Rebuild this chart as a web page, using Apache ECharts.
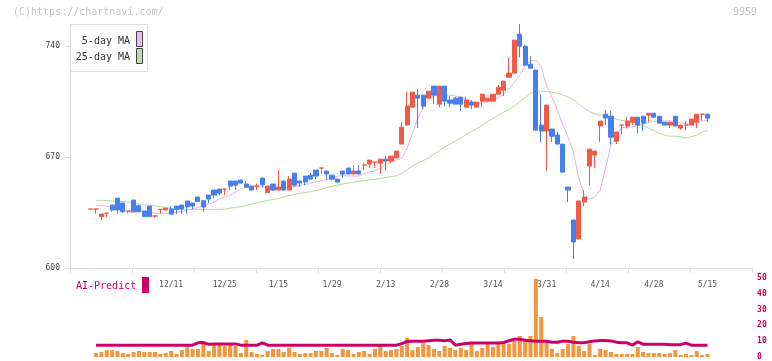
<!DOCTYPE html>
<html><head><meta charset="utf-8">
<script src="https://cdn.jsdelivr.net/npm/echarts/dist/echarts.min.js"></script>
<style>html,body{margin:0;padding:0;background:#fff}#c{width:772px;height:361px}</style>
</head><body><div id="c"></div>
<script>
// ---- data ----
const tickLabels = ['12/11','12/25','1/15','1/29','2/13','2/28','3/14','3/31','4/14','4/28','5/15'];
const priceTicks = [600, 670, 740];
const volTicks = [0, 10, 20, 30, 40, 50];

const openP = [
637.2,
637.2,632.4,634.6,639.7,644.1,641.0,636.0,642.9,639.3,636.0,
639.1,632.8,637.0,636.6,637.2,639.1,639.7,642.3,641.0,644.8,
642.5,646.0,649.2,649.8,649.8,654.9,654.9,655.5,653.0,651.7,
651.7,656.8,647.5,653.0,649.2,654.9,649.2,659.9,654.9,658.0,
658.6,661.8,663.1,661.2,658.6,656.1,661.2,663.1,659.3,661.2,
665.0,665.6,666.8,666.2,668.7,667.5,669.5,678.2,690.2,701.5,
709.1,709.1,707.2,714.8,703.4,714.8,706.0,707.2,707.8,701.5,
704.7,701.5,705.3,705.3,705.3,709.7,712.2,720.4,723.0,747.6,
740.0,728.6,724.9,690.2,686.4,687.7,683.9,678.2,651.1,630.3,
618.3,641.6,664.3,671.3,689.6,697.1,695.8,680.0,690.2,689.6,
692.0,695.2,695.8,696.5,697.7,695.8,692.0,690.2,695.8,688.3,
690.2,690.2,692.0,697.1,697.1];
const closeP = [
637.2,
637.2,634.1,634.6,636.6,636.6,635.5,636.0,635.5,635.5,632.4,
632.4,632.8,637.0,637.8,634.0,637.0,637.2,638.7,639.1,642.0,
638.5,643.5,646.0,647.3,649.8,651.7,652.3,653.6,651.0,649.2,
651.7,652.5,651.7,649.2,651.1,649.2,656.1,652.3,653.6,654.2,
656.1,658.0,663.1,659.3,656.1,654.2,659.3,659.3,661.2,659.3,
665.0,668.1,666.8,668.7,667.5,670.6,673.8,688.9,702.2,711.0,
707.2,702.2,711.6,709.1,714.8,705.3,704.0,703.4,703.4,706.0,
702.8,704.7,709.7,707.2,709.7,714.1,717.9,723.0,743.8,740.0,
728.0,726.1,687.0,686.4,702.8,683.2,678.2,660.5,649.2,616.4,
642.3,644.8,675.0,673.8,692.7,694.6,682.6,685.8,690.2,692.7,
695.2,690.2,691.4,697.7,695.2,691.4,690.2,692.0,689.6,690.2,
690.2,694.0,697.1,697.1,694.6];
const lowP = [
637.2,
634.4,630.3,632.0,635.5,634.2,634.8,634.5,635.5,635.5,632.4,
632.4,631.7,634.2,636.6,634.0,634.2,634.2,634.2,637.0,642.0,
635.5,641.0,644.0,646.0,646.0,649.2,649.2,653.6,651.0,649.2,
649.2,650.9,647.5,648.6,649.2,648.6,649.2,651.1,651.1,652.3,
656.1,656.1,659.3,655.5,655.5,654.2,656.7,659.3,659.3,659.3,
661.8,663.1,663.1,659.3,661.2,666.2,669.5,678.2,690.2,701.5,
688.3,700.3,707.2,703.4,701.5,702.2,701.5,703.4,699.0,701.5,
700.3,701.5,701.5,705.3,705.3,709.7,708.5,720.4,723.0,733.0,
728.0,726.1,687.0,679.5,661.2,679.5,678.2,660.5,641.6,605.7,
618.3,639.1,652.3,663.0,679.5,690.2,678.0,678.2,684.5,688.0,
690.2,685.1,686.4,692.0,694.6,691.4,690.2,688.3,689.6,687.0,
687.0,690.2,688.3,693.0,692.0];
const highP = [
637.2,
637.2,634.1,634.6,639.7,644.1,641.0,636.0,642.9,640.0,636.0,
639.1,632.8,637.0,637.8,639.1,639.1,639.7,642.3,641.0,644.8,
642.5,646.0,649.2,649.8,649.8,654.9,654.9,655.5,655.0,651.7,
653.4,656.8,651.7,653.0,661.8,654.9,658.0,659.9,654.9,658.0,
659.9,661.8,663.1,661.2,658.6,656.1,661.2,663.1,665.0,665.0,
666.2,668.1,666.8,668.7,670.6,670.6,673.8,692.0,711.0,711.0,
712.9,709.1,711.6,714.8,714.8,714.8,708.5,708.0,707.8,708.0,
706.0,704.7,709.7,707.2,709.7,715.4,717.9,733.0,743.8,753.9,
741.0,733.6,724.9,709.7,702.8,687.7,685.8,678.2,651.1,630.3,
642.3,649.2,675.0,673.8,692.7,699.6,699.0,685.8,690.2,695.2,
695.2,695.2,695.8,697.7,697.7,695.8,692.0,692.0,695.8,690.2,
692.7,694.0,697.1,697.1,697.1];
const ma5 = [
null,
639.7,639.4,639.1,638.5,637.8,636.6,635.3,635.0,635.9,635.9,
635.3,634.7,634.5,634.5,634.5,635.0,635.6,636.6,637.2,638.2,
639.1,640.4,641.6,643.5,644.8,646.0,647.9,649.8,650.8,651.3,
651.3,651.1,650.6,650.4,650.3,650.6,650.9,651.4,651.9,652.7,
653.5,654.2,655.0,655.9,656.8,657.8,658.5,658.1,658.0,658.0,
659.6,660.7,661.2,663.1,665.0,666.8,668.1,669.4,675.6,685.1,
694.6,700.9,706.3,708.8,709.1,709.1,709.1,708.6,707.8,706.6,
705.0,704.1,704.1,704.7,706.3,707.5,709.7,712.8,717.3,721.7,
727.4,730.8,731.2,726.8,714.8,707.8,699.6,690.8,682.6,673.2,
656.8,646.7,643.5,644.8,649.2,663.1,677.6,682.6,688.6,688.9,
689.2,689.9,690.5,691.8,692.4,692.9,692.9,692.9,692.3,691.6,
691.1,690.8,691.8,692.7,693.3];
const ma25 = [
null,
642.7,642.7,642.6,642.3,642.1,641.9,641.6,641.0,640.4,639.7,
639.7,639.1,638.8,638.3,637.6,637.4,637.2,637.0,637.0,637.0,
637.0,637.0,637.0,637.0,637.2,637.8,638.2,638.7,639.4,640.4,
641.0,641.9,642.7,643.2,643.8,644.8,645.7,646.4,647.1,647.6,
648.2,648.9,649.6,650.8,651.5,652.3,653.0,653.6,654.2,654.7,
655.0,655.5,656.0,656.6,657.1,657.7,658.1,659.6,662.1,664.3,
666.2,667.8,669.4,671.9,674.1,676.3,678.2,680.1,682.0,684.2,
686.1,688.0,689.9,692.4,694.3,696.5,698.4,700.0,702.2,704.9,
707.5,710.2,711.5,711.6,711.4,711.0,710.4,709.1,708.0,706.3,
703.4,700.9,698.7,697.4,696.5,695.9,695.0,694.0,693.1,692.9,
692.3,691.1,689.9,688.3,686.7,685.1,683.9,683.2,683.2,682.9,
682.0,682.9,683.9,685.8,687.0];
const volume = [
null,
2.5,3.2,4.4,4.4,3.8,2.5,1.9,3.2,3.8,3.2,
3.2,3.2,1.9,2.5,3.8,1.9,4.4,6.3,5.1,5.1,
8.2,3.8,7.6,7.6,7.0,7.6,7.0,2.5,10.8,3.2,
1.9,1.3,3.8,5.1,5.1,3.2,5.7,3.2,1.9,2.5,
2.5,3.8,3.8,5.7,2.5,1.3,5.1,4.4,1.9,3.2,
3.8,1.9,5.1,7.0,3.8,4.4,5.1,7.0,12.0,4.4,
6.3,8.9,7.6,5.1,3.8,7.0,5.7,4.4,5.7,4.4,
8.2,3.8,5.7,8.2,6.3,9.5,8.2,8.2,10.1,13.3,
10.1,13.3,49.5,25.3,10.1,5.1,2.5,5.1,8.2,13.3,
7.0,3.8,8.2,1.3,5.1,4.4,3.2,1.9,1.9,1.9,
1.9,6.3,3.2,2.5,2.5,2.5,1.9,2.5,4.4,1.3,
1.9,1.3,3.8,1.3,1.9];
const aiPredict = [
null,
7.5,7.5,7.5,7.5,7.5,7.5,7.5,7.5,7.5,7.5,
7.5,7.5,7.5,7.5,7.5,7.5,7.5,7.5,7.5,9.0,
9.2,8.0,8.3,8.3,8.3,8.3,8.3,7.5,7.5,7.5,
7.5,9.0,7.5,7.5,7.5,7.5,7.5,7.5,7.5,7.5,
7.5,7.5,7.5,7.5,7.5,7.5,7.5,7.5,7.5,7.5,
7.5,7.5,7.5,7.5,7.5,7.5,7.5,8.5,9.8,10.0,
10.0,10.0,10.3,10.6,10.6,10.3,10.8,7.5,8.1,8.5,
8.8,8.8,8.8,8.8,8.8,8.8,9.2,10.3,11.2,11.2,
10.6,10.3,10.0,10.0,10.0,9.4,9.4,10.0,10.0,9.4,
9.0,9.0,9.6,10.2,10.4,10.4,10.2,9.4,9.0,9.0,
7.5,9.6,8.1,8.1,8.1,8.1,8.1,7.8,7.8,7.8,
8.8,7.5,7.5,7.5,7.5];

// ---- layout constants ----
const SLOTS = 127, LEAD = 3, FIRST_LABEL = 15, LABEL_STEP = 10;
const UP = '#f05a46', DOWN = '#4680f0';
const MONO = 'DejaVu Sans Mono';

const cats = Array.from({length: SLOTS}, (_, i) => {
  const d = i - LEAD;
  const j = (d - FIRST_LABEL) / LABEL_STEP;
  return (d >= FIRST_LABEL && Number.isInteger(j) && j < tickLabels.length) ? tickLabels[j] : '';
});
const slot = (arr, fn) => Array.from({length: SLOTS}, (_, i) => {
  const d = i - LEAD;
  if (d < 0 || d >= arr.length) return '-';
  return fn(d);
});
const candles = slot(openP, d => {
  const v = [openP[d], closeP[d], lowP[d], highP[d]];
  if (openP[d] === closeP[d]) return {value: v, itemStyle: {color: UP, color0: UP, borderColor: UP, borderColor0: UP}};
  return v;
});
const ser = arr => slot(arr, d => arr[d] == null ? '-' : arr[d]);

const chart = echarts.init(document.getElementById('c'), null, {renderer: 'canvas'});
const L = 71.9, R = 772 - 753.1;
chart.setOption({
  animation: false,
  backgroundColor: '#fff',
  grid: [
    {left: 70, right: 20, top: 24, bottom: 93},
    {left: L, right: R, top: 24, bottom: 93},
    {left: L, right: R, top: 278, bottom: 3}
  ],
  xAxis: [
    {gridIndex: 0, type: 'value', min: 0, max: 11, interval: 1,
     axisLine: {show: true, lineStyle: {color: '#dddddd'}},
     axisTick: {show: true, length: 5, lineStyle: {color: '#dddddd'}},
     axisLabel: {show: false}, splitLine: {show: false}},
    {gridIndex: 1, type: 'category', data: cats, boundaryGap: true,
     axisLine: {show: false}, axisTick: {show: false}, splitLine: {show: false},
     axisLabel: {interval: 0, margin: 13, color: '#555', fontSize: 8, fontFamily: MONO}},
    {gridIndex: 2, type: 'category', data: cats, boundaryGap: true, show: false}
  ],
  yAxis: [
    {gridIndex: 0, type: 'value', min: 600, max: 754,
     axisLine: {show: true, lineStyle: {color: '#dddddd'}},
     axisTick: {show: true, length: 5, lineStyle: {color: '#dddddd'}, customValues: priceTicks},
     axisLabel: {customValues: priceTicks, margin: 10, color: '#444', fontSize: 8, fontFamily: MONO},
     splitLine: {show: false}},
    {gridIndex: 1, type: 'value', min: 600, max: 754, show: false},
    {gridIndex: 2, type: 'value', min: 0, max: 50, interval: 10, position: 'right',
     axisLine: {show: false}, axisTick: {show: false}, splitLine: {show: false},
     axisLabel: {customValues: volTicks, margin: 4, color: '#c8005a', fontSize: 8, fontWeight: 'bold', fontFamily: MONO}}
  ],
  series: [
    {type: 'line', name: '25-day MA', xAxisIndex: 1, yAxisIndex: 1, data: ser(ma25),
     showSymbol: false, lineStyle: {color: '#b5d9a5', width: 1}, z: 2},
    {type: 'line', name: '5-day MA', xAxisIndex: 1, yAxisIndex: 1, data: ser(ma5),
     showSymbol: false, lineStyle: {color: '#e6b3e6', width: 1}, z: 2},
    {type: 'candlestick', xAxisIndex: 1, yAxisIndex: 1, data: candles, barWidth: 4.6, z: 3,
     itemStyle: {color: UP, color0: DOWN, borderColor: UP, borderColor0: DOWN, borderWidth: 1}},
    {type: 'bar', xAxisIndex: 2, yAxisIndex: 2, data: ser(volume), barWidth: 4,
     itemStyle: {color: '#f2973f'}, z: 2},
    {type: 'line', xAxisIndex: 2, yAxisIndex: 2, data: ser(aiPredict), showSymbol: false,
     lineStyle: {color: '#cc0066', width: 3}, z: 3}
  ],
  graphic: [
    {type: 'text', x: 13, y: 12, style: {text: '(C)https://chartnavi.com/', fill: '#c4c4c4', font: '10px ' + MONO, verticalAlign: 'middle'}},
    {type: 'text', x: 757, y: 12, style: {text: '9959', fill: '#c4c4c4', font: '10px ' + MONO, align: 'right', verticalAlign: 'middle'}},
    {type: 'rect', shape: {x: 70.5, y: 24.5, width: 77, height: 47}, style: {fill: '#fff', stroke: '#dddddd', lineWidth: 1}, z: 10},
    {type: 'text', x: 130, y: 41, z: 11, style: {text: '5-day MA', fill: '#333', font: '10px ' + MONO, align: 'right', verticalAlign: 'middle'}},
    {type: 'rect', z: 11, shape: {x: 136.5, y: 31.5, width: 6, height: 15}, style: {fill: '#eebbee', stroke: '#444', lineWidth: 1}},
    {type: 'text', x: 130, y: 57, z: 11, style: {text: '25-day MA', fill: '#333', font: '10px ' + MONO, align: 'right', verticalAlign: 'middle'}},
    {type: 'rect', z: 11, shape: {x: 136.5, y: 48.5, width: 6, height: 15}, style: {fill: '#bbddaa', stroke: '#444', lineWidth: 1}},
    {type: 'text', x: 76, y: 286, z: 11, style: {text: 'AI-Predict', fill: '#cc0066', font: '10px ' + MONO, verticalAlign: 'middle'}},
    {type: 'rect', z: 11, shape: {x: 142, y: 277, width: 7, height: 16}, style: {fill: '#cc0066'}}
  ]
});
</script>
</body></html>
